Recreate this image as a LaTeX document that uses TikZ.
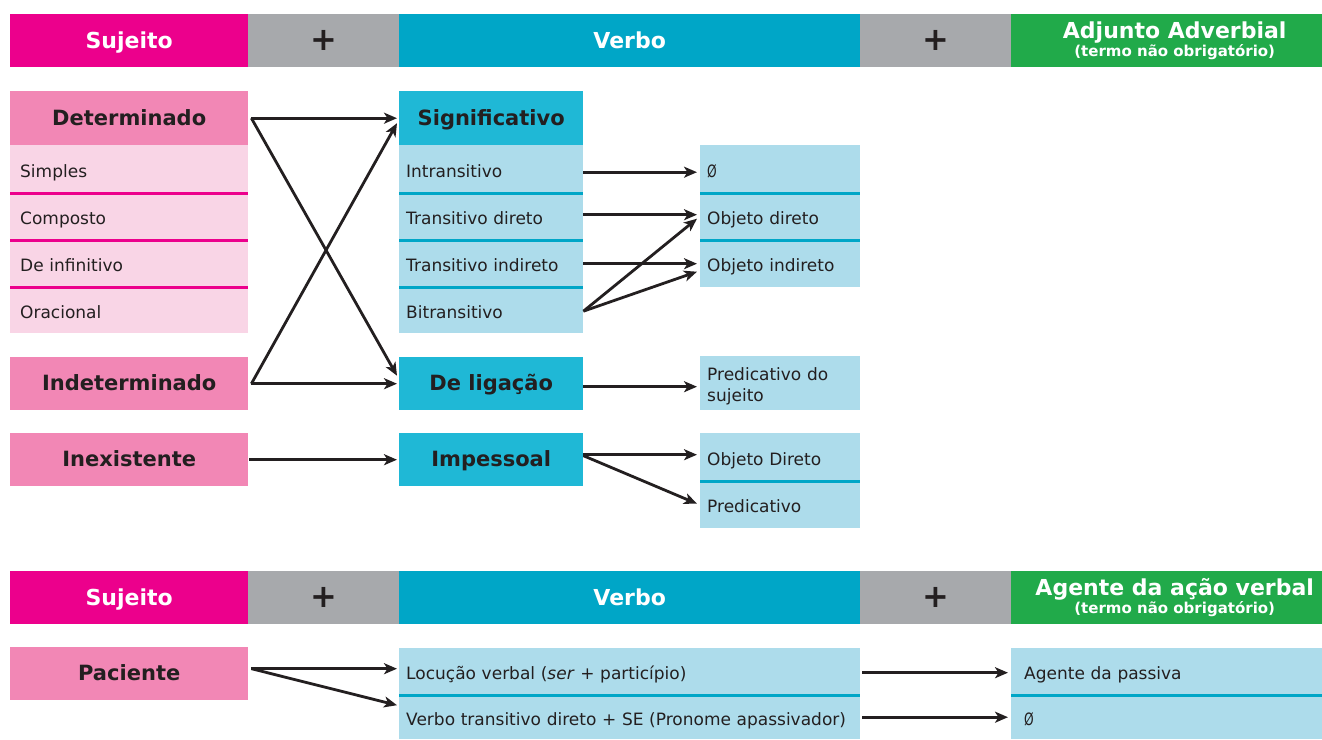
\documentclass[tikz,border=0pt]{standalone}
\usepackage{fontspec}
\usepackage{graphicx}
\setmainfont{DejaVu Sans}
\usetikzlibrary{arrows.meta}
\definecolor{mag}{HTML}{EC008C}
\definecolor{grayc}{HTML}{A7A9AC}
\definecolor{cyanh}{HTML}{00A6C7}
\definecolor{greenh}{HTML}{21AA4A}
\definecolor{pinkm}{HTML}{F287B5}
\definecolor{pinkl}{HTML}{F9D5E6}
\definecolor{tealm}{HTML}{1FB8D6}
\definecolor{bluel}{HTML}{ADDCEB}
\definecolor{dk}{HTML}{231F20}
\newcommand\nada{\scalebox{0.72}[1]{Ø}}
\begin{document}
\begin{tikzpicture}[x=1pt,y=-1pt,
  hdr/.style={anchor=north west, inner sep=0pt, minimum height=53pt, font=\fontsize{22}{18}\selectfont\bfseries, text=white, align=center},
  hdrone/.style={hdr, text height=16pt, text depth=0pt},
  plus/.style={hdr, fill=grayc, text=dk, font=\fontsize{32}{32}\selectfont\bfseries},
  mainbox/.style={anchor=north west, inner sep=0pt, minimum height=54pt, font=\fontsize{21}{24}\selectfont\bfseries, text=dk, text height=15pt, text depth=1pt},
  cellbase/.style={anchor=north west, inner xsep=10pt, inner ysep=0pt, align=left, font=\fontsize{17}{21}\selectfont, text=dk},
  cell/.style={cellbase, text height=17pt, text depth=1pt},
  pcell/.style={cell, fill=pinkl, text width=218pt},
  bcell/.style={cell, fill=bluel, inner xsep=7pt, text width=170pt},
  rcell/.style={cell, fill=bluel, inner xsep=7pt, text width=146pt},
  psep/.style={draw=mag, line width=2.2pt},
  bsep/.style={draw=cyanh, line width=2.5pt},
  arr/.style={draw=dk, line width=2.8pt, -{Stealth[length=13pt,width=11pt,inset=3.5pt]}}
]
\useasboundingbox (0,0) rectangle (1322,739);

% ---------- header 1
\node[hdrone, fill=mag, minimum width=238pt] (suj1) at (10,14) {Sujeito};
\node[plus, minimum width=151pt] (p1a) at (248,14) {+};
\node[hdrone, fill=cyanh, minimum width=461pt] (verb1) at (399,14) {Verbo};
\node[plus, minimum width=151pt] (p1b) at (860,14) {+};
\node[hdr, fill=greenh, minimum width=311pt] (adj) at (1011,14) {\hspace*{16pt}Adjunto Adverbial\\{\fontsize{15}{15}\selectfont\hspace*{16pt}(termo não obrigatório)}};

% ---------- sujeito column
\node[mainbox, fill=pinkm, minimum width=238pt] (det) at (10,91) {Determinado};
\node[pcell, minimum height=48pt] (simp) at (10,145) {Simples};
\node[pcell, minimum height=47pt] (comp) at (10,193) {Composto};
\node[pcell, minimum height=47pt] (inf) at (10,240) {De infinitivo};
\node[pcell, minimum height=46pt] (orac) at (10,287) {Oracional};
\draw[psep] (simp.south west) -- (simp.south east);
\draw[psep] (comp.south west) -- (comp.south east);
\draw[psep] (inf.south west) -- (inf.south east);
\node[mainbox, fill=pinkm, minimum width=238pt, minimum height=53pt] (indet) at (10,357) {Indeterminado};
\node[mainbox, fill=pinkm, minimum width=238pt, minimum height=53pt] (inex) at (10,433) {Inexistente};

% ---------- verbo column
\node[mainbox, fill=tealm, minimum width=184pt] (sig) at (399,91) {Significativo};
\node[bcell, minimum height=48pt] (intr) at (399,145) {Intransitivo};
\node[bcell, minimum height=47pt] (td) at (399,193) {Transitivo direto};
\node[bcell, minimum height=47pt] (ti) at (399,240) {Transitivo indireto};
\node[bcell, minimum height=46pt] (bit) at (399,287) {Bitransitivo};
\draw[bsep] (intr.south west) -- (intr.south east);
\draw[bsep] (td.south west) -- (td.south east);
\draw[bsep] (ti.south west) -- (ti.south east);
\node[mainbox, fill=tealm, minimum width=184pt, minimum height=53pt] (lig) at (399,357) {De ligação};
\node[mainbox, fill=tealm, minimum width=184pt, minimum height=53pt] (imp) at (399,433) {Impessoal};

% ---------- complements column
\node[rcell, minimum height=48pt] (nul) at (700,145) {\nada};
\node[rcell, minimum height=47pt] (od) at (700,193) {Objeto direto};
\node[rcell, minimum height=47pt] (oi) at (700,240) {Objeto indireto};
\draw[bsep] (nul.south west) -- (nul.south east);
\draw[bsep] (od.south west) -- (od.south east);
\node[cellbase, fill=bluel, inner xsep=7pt, text width=146pt, minimum height=54pt, text height=13pt, text depth=19pt] (pred) at (700,356) {Predicativo do\\sujeito};
\node[rcell, minimum height=48pt] (oD2) at (700,433) {Objeto Direto};
\node[rcell, minimum height=47pt] (pv) at (700,481) {Predicativo};
\draw[bsep] (oD2.south west) -- (oD2.south east);

% ---------- arrows top
\draw[arr] ([xshift=3pt]det.east) -- ([xshift=-2pt]sig.west);
\draw[arr] ([xshift=3pt]det.east) -- ([xshift=-2pt,yshift=8pt]lig.west);
\draw[arr] ([xshift=3pt]indet.east) -- ([xshift=-2pt,yshift=-5pt]sig.west);
\draw[arr] ([xshift=3pt]indet.east) -- ([xshift=-2pt]lig.west);
\draw[arr] ([xshift=1pt]inex.east) -- ([xshift=-2pt]imp.west);

\draw[arr] ([yshift=-3pt]intr.east) -- ([xshift=-3pt,yshift=-3pt]intr.east -| nul.west);
\draw[arr] ([yshift=2pt]td.east) -- ([xshift=-3pt,yshift=2pt]td.east -| od.west);
\draw[arr] (ti.east) -- ([xshift=-3pt]ti.east -| oi.west);
\draw[arr] ([yshift=-1pt]bit.east) -- ([xshift=-3pt,yshift=-2pt]od.west);
\draw[arr] ([yshift=-1pt]bit.east) -- ([xshift=-3pt,yshift=-8pt]oi.west);
\draw[arr] ([yshift=-3pt]lig.east) -- ([xshift=-3pt,yshift=-3pt]lig.east -| pred.west);
\draw[arr] ([yshift=5pt]imp.east) -- ([xshift=-3pt,yshift=5pt]imp.east -| oD2.west);
\draw[arr] ([yshift=4pt]imp.east) -- ([xshift=-3pt,yshift=1pt]pv.west);

% ---------- header 2
\node[hdrone, fill=mag, minimum width=238pt] (suj2) at (10,571) {Sujeito};
\node[plus, minimum width=151pt] (p2a) at (248,571) {+};
\node[hdrone, fill=cyanh, minimum width=461pt] (verb2) at (399,571) {Verbo};
\node[plus, minimum width=151pt] (p2b) at (860,571) {+};
\node[hdr, fill=greenh, minimum width=311pt] (ag) at (1011,571) {\hspace*{16pt}Agente da ação verbal\\{\fontsize{15}{15}\selectfont\hspace*{16pt}(termo não obrigatório)}};

% ---------- bottom rows
\node[mainbox, fill=pinkm, minimum width=238pt, minimum height=53pt] (pac) at (10,647) {Paciente};
\node[cell, fill=bluel, inner xsep=7pt, text width=447pt, minimum height=47pt] (loc) at (399,648) {Locução verbal (\textit{ser} + particípio)};
\node[cell, fill=bluel, inner xsep=7pt, text width=447pt, minimum height=44pt] (vtd) at (399,695) {Verbo transitivo direto + SE (Pronome apassivador)};
\draw[bsep] (loc.south west) -- (loc.south east);
\node[cell, fill=bluel, inner xsep=13pt, text width=285pt, minimum height=47pt] (agp) at (1011,648) {Agente da passiva};
\node[cell, fill=bluel, inner xsep=13pt, text width=285pt, minimum height=44pt] (nul2) at (1011,695) {\nada};
\draw[bsep] (agp.south west) -- (agp.south east);

\draw[arr] ([xshift=3pt,yshift=5pt]pac.east) -- ([xshift=-2pt,yshift=3pt]loc.west);
\draw[arr] ([xshift=3pt,yshift=5pt]pac.east) -- ([xshift=-2pt,yshift=12pt]vtd.west);
\draw[arr] ([xshift=2pt,yshift=-1pt]loc.east) -- ([xshift=-3pt,yshift=-1pt]loc.east -| agp.west);
\draw[arr] ([xshift=2pt]vtd.east) -- ([xshift=-3pt]vtd.east -| nul2.west);
\end{tikzpicture}
\end{document}
